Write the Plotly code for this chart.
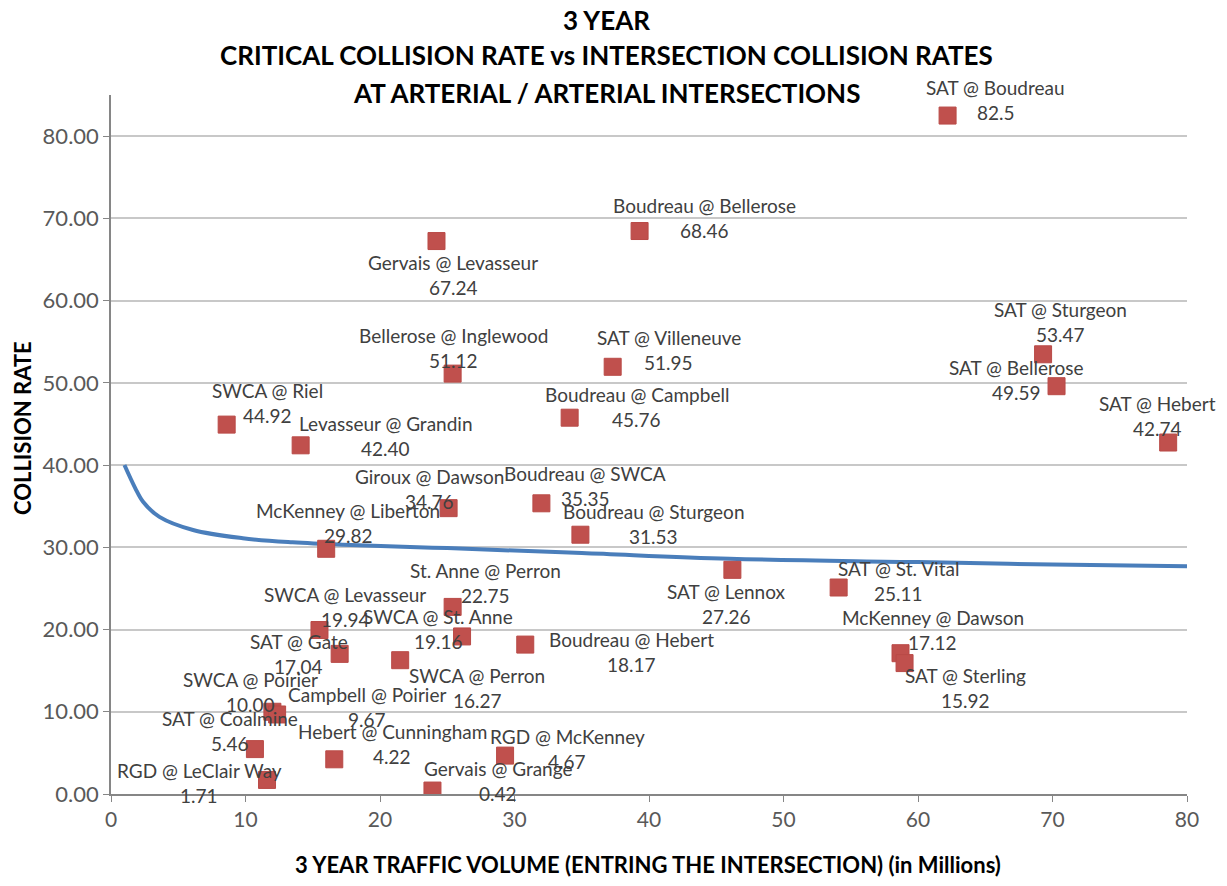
import plotly.graph_objects as go

# ---------------- data ----------------
intersections = [
    "SAT @ Boudreau", "Boudreau @ Bellerose", "Gervais @ Levasseur", "Bellerose @ Inglewood",
    "SAT @ Villeneuve", "Boudreau @ Campbell", "SWCA @ Riel", "Levasseur @ Grandin",
    "Giroux @ Dawson", "Boudreau @ SWCA", "Boudreau @ Sturgeon", "McKenney @ Liberton",
    "St. Anne @ Perron", "SWCA @ Levasseur", "SWCA @ St. Anne", "SAT @ Gate",
    "SWCA @ Perron", "Boudreau @ Hebert", "SWCA @ Poirier", "Campbell @ Poirier",
    "SAT @ Coalmine", "RGD @ LeClair Way", "Hebert @ Cunningham", "RGD @ McKenney",
    "Gervais @ Grange", "SAT @ Lennox", "SAT @ St. Vital", "McKenney @ Dawson",
    "SAT @ Sterling", "SAT @ Sturgeon", "SAT @ Bellerose", "SAT @ Hebert",
]
traffic_volume = [
    62.2, 39.3, 24.2, 25.4,
    37.3, 34.1, 8.6, 14.1,
    25.1, 32.0, 34.9, 16.0,
    25.4, 15.5, 26.1, 17.0,
    21.5, 30.8, 12.0, 12.35,
    10.7, 11.6, 16.6, 29.3,
    23.9, 46.2, 54.1, 58.7,
    59.0, 69.3, 70.3, 78.6,
]
collision_rate = [
    82.5, 68.46, 67.24, 51.12,
    51.95, 45.76, 44.92, 42.40,
    34.76, 35.35, 31.53, 29.82,
    22.75, 19.94, 19.16, 17.04,
    16.27, 18.17, 10.00, 9.67,
    5.46, 1.71, 4.22, 4.67,
    0.42, 27.26, 25.11, 17.12,
    15.92, 53.47, 49.59, 42.74,
]
rate_text_override = {0: "82.5"}

critical_volume = [1.0, 1.8, 2.4, 3.6, 6.1, 9.8, 13.5, 17.3, 25, 35, 46, 60, 70, 80]
critical_rate = [40.0, 37.2, 35.5, 33.7, 32.1, 31.1, 30.6, 30.3, 29.9, 29.3, 28.6, 28.2, 27.9, 27.7]

y_ticks = [0, 10, 20, 30, 40, 50, 60, 70, 80]
x_ticks = [0, 10, 20, 30, 40, 50, 60, 70, 80]

# ---------------- styles (label block offsets in px: dx right, dy down) ----------------
label_offsets = [
    (48, -16), (65, -13), (17, 34), (1, -26),
    (56, -17), (67, -11), (41, -22), (85, -9),
    (-19, -19), (44, -17), (73, -11), (22, -26),
    (33, -24), (26, -23), (-24, -7), (-41, 0),
    (77, 28), (106, 7), (-22, -20), (90, -7),
    (-25, -18), (-68, 3), (58, -15), (62, -7),
    (66, -10), (-6, 34), (60, -7), (32, -23),
    (61, 25), (17, -32), (-40, -6), (-11, -27),
]

FONT = "Lato"
LABEL_COLOR = "#404040"
TICK_COLOR = "#595959"
AXIS_COLOR = "#868686"
GRID_COLOR = "#c8c8c8"

# page body has an 8px margin; figure is sized so plot area lands at x 111..1187, y 95..794
FIG_W, FIG_H = 1211, 870
M_L, M_T = 103, 87
PLOT_W, PLOT_H = 1076, 699

fig = go.Figure()

fig.add_trace(go.Scatter(
    x=critical_volume, y=critical_rate, mode="lines",
    line=dict(color="#4a7ebb", width=4, shape="spline", smoothing=1.0),
    hoverinfo="skip", showlegend=False,
))

fig.add_trace(go.Scatter(
    x=traffic_volume, y=collision_rate, mode="markers",
    marker=dict(symbol="square", size=17, color="#c0504d",
                line=dict(color="#b94a47", width=1)),
    text=intersections, showlegend=False,
))

annotations = []
for i, (name, xv, yv) in enumerate(zip(intersections, traffic_volume, collision_rate)):
    dx, dy = label_offsets[i]
    val = rate_text_override.get(i, f"{yv:.2f}")
    for txt, off in ((name, -12.5), (val, 12.5)):
        annotations.append(dict(
            x=xv, y=yv, xref="x", yref="y", text=txt, showarrow=False,
            xshift=dx, yshift=-(dy + off),
            xanchor="center", yanchor="middle",
            font=dict(family=FONT, size=19, color=LABEL_COLOR),
        ))

# title lines (page pixel y of each line centre)
title_lines = [
    ("3 YEAR", 20),
    ("CRITICAL COLLISION RATE vs INTERSECTION COLLISION RATES", 55),
    ("AT ARTERIAL / ARTERIAL INTERSECTIONS", 93),
]
PLOT_TOP = 95
PLOT_LEFT = 111
for txt, ypix in title_lines:
    annotations.append(dict(
        x=(606 - PLOT_LEFT) / PLOT_W, y=1 + (PLOT_TOP - ypix) / PLOT_H,
        xref="paper", yref="paper", text=f"<b>{txt}</b>", showarrow=False,
        xanchor="center", yanchor="middle",
        font=dict(family=FONT, size=26, color="#000000"),
    ))

# y axis title
annotations.append(dict(
    x=(22 - PLOT_LEFT) / PLOT_W, y=(794 - 428) / PLOT_H, xref="paper", yref="paper",
    text="<b>COLLISION RATE</b>", showarrow=False, textangle=-90,
    xanchor="center", yanchor="middle",
    font=dict(family=FONT, size=22, color="#000000"),
))
# x axis title
annotations.append(dict(
    x=(648 - PLOT_LEFT) / PLOT_W, y=-(865 - 794) / PLOT_H, xref="paper", yref="paper",
    text="<b>3 YEAR TRAFFIC VOLUME (ENTRING THE INTERSECTION) (in Millions)</b>",
    showarrow=False, xanchor="center", yanchor="middle",
    font=dict(family=FONT, size=22, color="#000000"),
))

fig.update_layout(
    width=FIG_W, height=FIG_H,
    margin=dict(l=M_L, r=FIG_W - M_L - PLOT_W, t=M_T, b=FIG_H - M_T - PLOT_H),
    paper_bgcolor="white", plot_bgcolor="white",
    annotations=annotations,
    showlegend=False,
)

fig.update_xaxes(
    range=[0, 80], tickvals=x_ticks, ticktext=[str(t) for t in x_ticks],
    showgrid=False, zeroline=False,
    showline=True, linecolor=AXIS_COLOR, linewidth=1.5,
    ticks="outside", ticklen=6, tickcolor=AXIS_COLOR,
    tickfont=dict(family=FONT, size=21, color=TICK_COLOR),
)
fig.update_yaxes(
    range=[0, 85], tickvals=y_ticks, ticktext=[f"{t:.2f}" for t in y_ticks],
    showgrid=True, gridcolor=GRID_COLOR, gridwidth=1.5, zeroline=False,
    showline=True, linecolor=AXIS_COLOR, linewidth=1.5,
    ticks="outside", ticklen=6, tickcolor=AXIS_COLOR,
    tickfont=dict(family=FONT, size=22, color=TICK_COLOR),
)

fig.write_html("out.html")
